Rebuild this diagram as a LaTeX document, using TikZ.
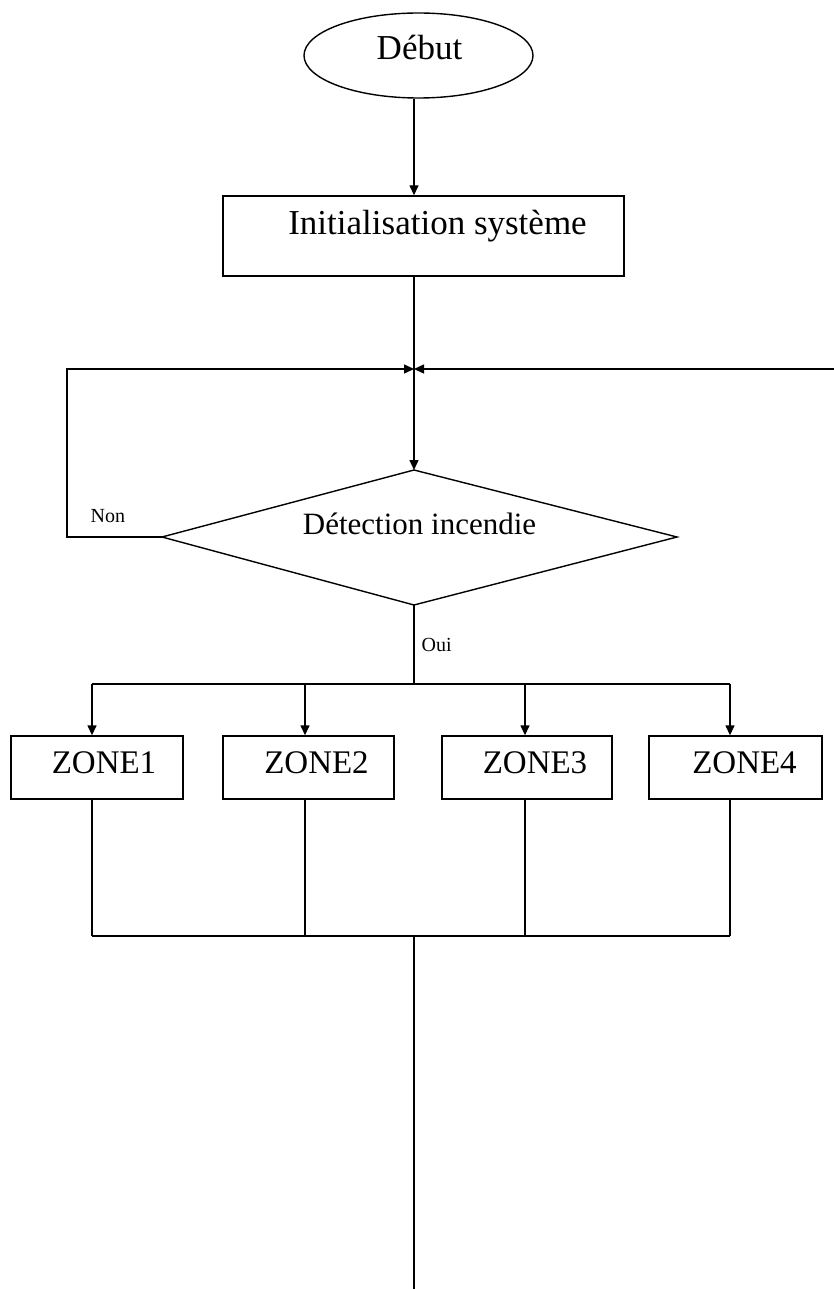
\documentclass[tikz,border=0pt]{standalone}
\usepackage{fontspec}
\setmainfont{Liberation Serif}
\usetikzlibrary{arrows.meta,shapes.geometric}
\begin{document}
\begin{tikzpicture}[x=1pt,y=-1pt,
 line width=1.4pt,
 arr/.style={-{Triangle[length=10pt,width=9pt]}},
 boxst/.style={draw,rectangle,inner sep=0pt},
 txt/.style={anchor=base,inner sep=0pt,font=\fontsize{33}{36}\selectfont},
 btxt/.style={anchor=base,inner sep=0pt,font=\fontsize{35}{38}\selectfont},
 dtxt/.style={anchor=base,inner sep=0pt,font=\fontsize{31}{34}\selectfont},
 small/.style={anchor=base west,inner sep=0pt,font=\fontsize{20}{22}\selectfont}]
\useasboundingbox (0,0) rectangle (834,1289);

% start
\node[draw,ellipse,minimum width=229pt,minimum height=85pt,inner sep=0pt] (start) at (418.5,55.5) {};
\node[btxt] (startT) at (419.5,60) {Début};

% init
\node[boxst,minimum width=401pt,minimum height=80pt] (init) at (423.5,236) {};
\node[btxt] (initT) at (437.5,234) {Initialisation système};

% junction and loop
\coordinate (J) at (414,369);
\coordinate (LC) at (67,369);
\coordinate (RC) at (834,369);

% decision
\coordinate (dL) at (162,537);
\coordinate (dT) at (414,470);
\coordinate (dR) at (677,537);
\coordinate (dB) at (414,605);
\draw (dL) -- (dT) -- (dR) -- (dB) -- cycle;
\node[dtxt] (decT) at (419.5,534) {Détection incendie};
\node[small] (non) at (90,522) {Non};
\node[small] (oui) at (421,651) {Oui};

% zones
\node[boxst,minimum width=172pt,minimum height=63pt] (z1) at (97,767.5) {};
\node[boxst,minimum width=171pt,minimum height=63pt] (z2) at (308.5,767.5) {};
\node[boxst,minimum width=170pt,minimum height=63pt] (z3) at (527,767.5) {};
\node[boxst,minimum width=173pt,minimum height=63pt] (z4) at (735.5,767.5) {};
\node[txt] (z1T) at (104,773) {ZONE1};
\node[txt] (z2T) at (316.5,773) {ZONE2};
\node[txt] (z3T) at (535,773) {ZONE3};
\node[txt] (z4T) at (744.5,773) {ZONE4};

\coordinate (b1) at (92,684);
\coordinate (b2) at (305,684);
\coordinate (b3) at (525,684);
\coordinate (b4) at (730,684);
\coordinate (c1) at (92,936);
\coordinate (c2) at (305,936);
\coordinate (c3) at (525,936);
\coordinate (c4) at (730,936);
\coordinate (E) at (414,1289);

% connectors
\draw[arr] (start.south -| J) -- (init.north -| J);
\draw[arr] (init.south -| J) -- (dT);
\draw[arr] (dL) -| (LC) -- (J);
\draw[arr] (RC) -- (J);
\draw (dB) -- (dB |- b1);
\draw (b1) -- (b4);
\draw[arr] (b1) -- (z1.north -| b1);
\draw[arr] (b2) -- (z2.north -| b2);
\draw[arr] (b3) -- (z3.north -| b3);
\draw[arr] (b4) -- (z4.north -| b4);
\draw (z1.south -| c1) -- (c1);
\draw (z2.south -| c2) -- (c2);
\draw (z3.south -| c3) -- (c3);
\draw (z4.south -| c4) -- (c4);
\draw (c1) -- (c4);
\draw (c1 -| E) -- (E);
\end{tikzpicture}
\end{document}
